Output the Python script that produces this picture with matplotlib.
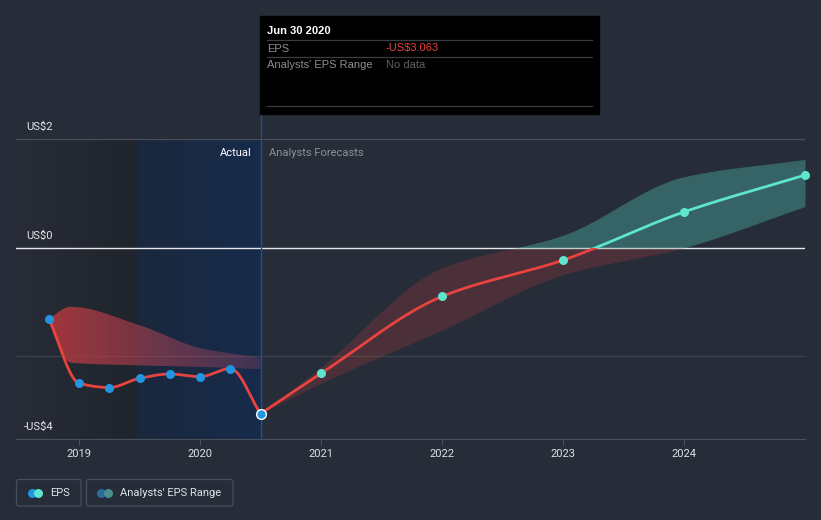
import numpy as np
import matplotlib
matplotlib.use("Agg")
import matplotlib.pyplot as plt
from matplotlib.patches import Rectangle, FancyBboxPatch
from matplotlib.colors import to_rgb

plt.rcParams['font.family'] = ['Roboto', 'DejaVu Sans']

# EPS history (decimal years) and analyst forecasts
actual_x = [2018.75, 2019.0, 2019.25, 2019.5, 2019.75, 2020.0, 2020.25, 2020.5]
actual_eps = [-1.31, -2.50, -2.58, -2.41, -2.33, -2.38, -2.23, -3.063]

past_range_x = [2018.75, 2018.93, 2019.5, 2020.0, 2020.5]
past_range_high = [-1.31, -1.09, -1.43, -1.85, -2.03]
past_range_low = [-1.31, -2.12, -2.17, -2.20, -2.24]

forecast_x = [2020.5, 2021.0, 2022.0, 2023.0, 2024.0, 2025.0]
forecast_eps = [-3.063, -2.32, -0.90, -0.23, 0.66, 1.34]
forecast_high = [-3.063, -2.20, -0.37, 0.23, 1.31, 1.63]
forecast_low = [-3.063, -2.50, -1.52, -0.50, 0.00, 0.76]

year_ticks = [2019, 2020, 2021, 2022, 2023, 2024]
y_labels = ['US$2', 'US$0', '-US$4']

BG = '#262c38'
RED = '#e8433f'
TEAL = '#5de5cf'
BLUE = '#2394df'
GRID = '#4a505c'


def monotone(x, y, n=300):
    x = np.asarray(x, float)
    y = np.asarray(y, float)
    h = np.diff(x)
    d = np.diff(y) / h
    m = np.zeros_like(y)
    m[0], m[-1] = d[0], d[-1]
    for i in range(1, len(x) - 1):
        if d[i - 1] * d[i] <= 0:
            m[i] = 0
        else:
            w1 = 2 * h[i] + h[i - 1]
            w2 = h[i] + 2 * h[i - 1]
            m[i] = (w1 + w2) / (w1 / d[i - 1] + w2 / d[i])
    xs = np.linspace(x[0], x[-1], n)
    idx = np.clip(np.searchsorted(x, xs) - 1, 0, len(h) - 1)
    t = (xs - x[idx]) / h[idx]
    h00 = 2 * t**3 - 3 * t**2 + 1
    h10 = t**3 - 2 * t**2 + t
    h01 = -2 * t**3 + 3 * t**2
    h11 = t**3 - t**2
    ys = h00 * y[idx] + h10 * h[idx] * m[idx] + h01 * y[idx + 1] + h11 * h[idx] * m[idx + 1]
    return xs, ys


def hgrad(ax, x0, x1, y0, y1, c0, c1, a0=1.0, a1=1.0, zorder=0):
    c0, c1 = np.array(to_rgb(c0)), np.array(to_rgb(c1))
    t = np.linspace(0, 1, 256)
    rgb = c0[None, :] * (1 - t[:, None]) + c1[None, :] * t[:, None]
    alpha = a0 * (1 - t) + a1 * t
    img = np.concatenate([rgb, alpha[:, None]], axis=1)[None, :, :]
    return ax.imshow(img, extent=(x0, x1, y0, y1), aspect='auto',
                     interpolation='bilinear', zorder=zorder, origin='lower')


fig = plt.figure(figsize=(8.21, 5.2), dpi=100, facecolor=BG)
ax = fig.add_axes([16 / 821, (520 - 439.3) / 520, (805 - 16) / 821, 300 / 520])
ax.set_facecolor(BG)
xmin, xmax = 2018.479, 2025.0
ymin, ymax = -3.535, 2.0

# shaded past regions
hgrad(ax, xmin, 2019.49, ymin, ymax, '#272c37', '#20242c', zorder=0)
hgrad(ax, 2019.49, 2020.5, ymin, ymax, '#1b283d', '#172b4b', zorder=0)

# grid lines
ax.axhline(2, color=GRID, lw=0.9, zorder=1)
ax.axhline(-2, color='#3c424e', lw=0.9, zorder=1)
ax.axhline(0, color='#e6e8ec', lw=1.0, zorder=1)

# past analyst range with gradient
px, ph = monotone(past_range_x, past_range_high)
_, pl = monotone(past_range_x, past_range_low)
poly = ax.fill_between(px, pl, ph, facecolor='none', edgecolor='none')
im = hgrad(ax, 2018.75, 2020.5, -3, 0, '#b8393c', '#9a4a6a', a0=0.85, a1=0.3, zorder=2)
im.set_clip_path(poly.get_paths()[0], transform=ax.transData)

# forecast range, red below zero / teal above
fx, fh = monotone(forecast_x, forecast_high)
_, fl = monotone(forecast_x, forecast_low)
below = Rectangle((xmin, -10), xmax - xmin, 10, transform=ax.transData)
above = Rectangle((xmin, 0), xmax - xmin, 10, transform=ax.transData)
b1 = ax.fill_between(fx, fl, fh, color=RED, alpha=0.2, lw=0, zorder=2)
b1.set_clip_path(below)
b2 = ax.fill_between(fx, fl, fh, color=TEAL, alpha=0.3, lw=0, zorder=2)
b2.set_clip_path(above)

# EPS lines
ax_x, ax_y = monotone(actual_x, actual_eps)
ax.plot(ax_x, ax_y, color=RED, lw=2.0, zorder=3, solid_capstyle='round')
fxs, fys = monotone(forecast_x, forecast_eps)
l1, = ax.plot(fxs, fys, color=RED, lw=2.0, zorder=3)
l1.set_clip_path(below)
l2, = ax.plot(fxs, fys, color=TEAL, lw=2.0, zorder=3)
l2.set_clip_path(above)

ax.plot(actual_x[:-1], actual_eps[:-1], 'o', color=BLUE, ms=6.5, mew=0, zorder=4)
ax.plot(actual_x[-1:], actual_eps[-1:], 'o', color=BLUE, ms=7, mec='white', mew=1.0, zorder=4)
ax.plot(forecast_x[1:], forecast_eps[1:], 'o', color=TEAL, ms=6.5, mew=0, zorder=4, clip_on=False)

# hover line at the last actual point
ax.plot([2020.5, 2020.5], [ymin, 2.47], color='#24508a', lw=1.0, zorder=3, clip_on=False)

ax.set_xlim(xmin, xmax)
ax.set_ylim(ymin, ymax)
for s in ['top', 'right', 'left']:
    ax.spines[s].set_visible(False)
ax.spines['bottom'].set_color(GRID)
ax.set_yticks([])
ax.set_xticks(year_ticks)
ax.set_xticklabels([str(y) for y in year_ticks])
ax.tick_params(axis='x', colors=GRID, labelcolor='#dfe2e6', labelsize=8, length=4, pad=3)

ax.text(2020.43, 1.75, 'Actual', color='white', fontsize=8, ha='right', va='center', zorder=5)
ax.text(2020.57, 1.75, 'Analysts Forecasts', color='#8c9099', fontsize=8, ha='left', va='center', zorder=5)

# overlay in pixel coordinates for labels, tooltip and legend
ov = fig.add_axes([0, 0, 1, 1], zorder=5)
ov.set_xlim(0, 821)
ov.set_ylim(520, 0)
ov.axis('off')
ov.patch.set_alpha(0)

for lab, yy, xx in zip(y_labels, [127, 236, 427], [26, 26, 24]):
    ov.text(xx, yy, lab, color='#e6e8ec', fontsize=8, va='center', ha='left')

# tooltip
ov.add_patch(Rectangle((260, 16), 339, 98, color='black'))
for yy in [40, 57.3, 106.3]:
    ov.plot([267, 592], [yy, yy], color='#3a3d42', lw=0.9)
tf = ['Liberation Sans', 'DejaVu Sans']
ov.text(267, 31, 'Jun 30 2020', color='white', fontsize=8, fontweight='bold', va='center', family=tf)
ov.text(267, 48.5, 'EPS', color='#8a8d92', fontsize=8, va='center', family=tf)
ov.text(386, 48.5, '-US$3.063', color='#e8403f', fontsize=8, va='center', family=tf)
ov.text(267, 65, "Analysts' EPS Range", color='#8a8d92', fontsize=8, va='center', family=tf)
ov.text(386, 65, 'No data', color='#5e6166', fontsize=8, va='center', family=tf)

# legend
for x0, w in [(16.5, 64.5), (86.5, 146.5)]:
    ov.add_patch(FancyBboxPatch((x0, 479.5), w, 26.5, boxstyle='round,pad=0,rounding_size=2',
                                fc='none', ec='#474d59', lw=0.9))
ov.plot([31.7], [492.5], 'o', color=BLUE, ms=6.5, mew=0)
ov.plot([38.3], [492.5], 'o', color=TEAL, ms=6.5, mew=0)
ov.text(50, 492.5, 'EPS', color='#dfe2e6', fontsize=8, va='center')
ov.plot([101], [492.5], 'o', color='#2b6a9a', ms=6.5, mew=0)
ov.plot([107.7], [492.5], 'o', color='#4a8f8a', ms=6.5, mew=0)
ov.text(120, 492.5, "Analysts' EPS Range", color='#dfe2e6', fontsize=8, va='center')

fig.savefig('out.png', dpi=100, facecolor=BG)
